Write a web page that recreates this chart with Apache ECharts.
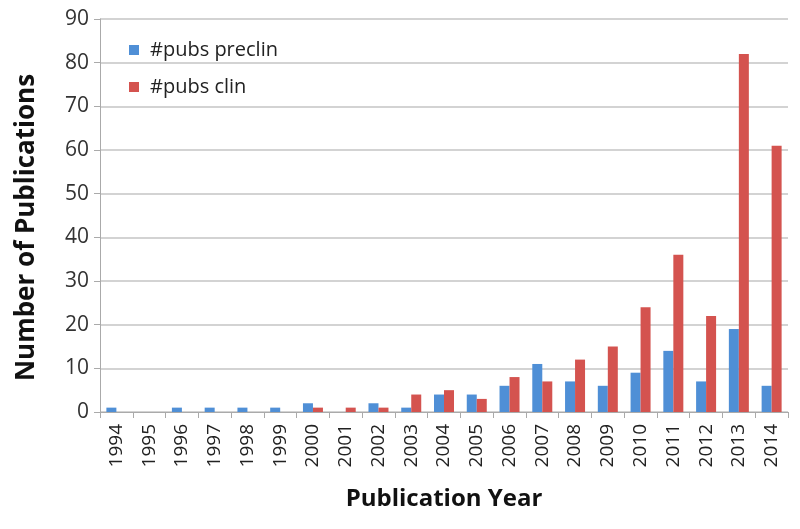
<!DOCTYPE html>
<html>
<head>
<meta charset="utf-8">
<script src="https://cdn.jsdelivr.net/npm/echarts@6/dist/echarts.min.js"></script>
<style>html,body{margin:0;padding:0;background:#fff}#c{width:800px;height:529px}</style>
</head>
<body>
<div id="c"></div>
<script>
var years = ['1994','1995','1996','1997','1998','1999','2000','2001','2002','2003','2004','2005','2006','2007','2008','2009','2010','2011','2012','2013','2014'];
var preclin = [1,0,1,1,1,1,2,0,2,1,4,4,6,11,7,6,9,14,7,19,6];
var clin = [0,0,0,0,0,0,1,1,1,4,5,3,8,7,12,15,24,36,22,82,61];
var yTicks = [0,10,20,30,40,50,60,70,80,90];

var chart = echarts.init(document.getElementById('c'));
var font = '"Open Sans", "Liberation Sans", sans-serif';
chart.setOption({
  animation: false,
  textStyle: {fontFamily: font},
  grid: {left: 100, right: 12, top: 19, bottom: 117},
  legend: {
    orient: 'vertical', left: 124, top: 35, itemGap: 17,
    itemWidth: 10, itemHeight: 10, icon: 'rect',
    textStyle: {fontSize: 20, color: '#222', fontFamily: font, padding: [0, 0, 0, 6]},
    data: ['#pubs preclin', '#pubs clin']
  },
  xAxis: {
    type: 'category', data: years,
    name: 'Publication Year', nameLocation: 'middle', nameGap: 75,
    nameTextStyle: {fontSize: 24, fontWeight: 'bold', color: '#111', fontFamily: font},
    axisLine: {lineStyle: {color: '#aaa'}},
    axisTick: {show: true, alignWithLabel: false, length: 6, lineStyle: {color: '#aaa'}},
    axisLabel: {rotate: 90, fontSize: 19, color: '#222', margin: 12, interval: 0}
  },
  yAxis: {
    type: 'value', min: yTicks[0], max: yTicks[yTicks.length-1], interval: 10,
    name: 'Number of Publications', nameLocation: 'middle', nameGap: 60,
    nameTextStyle: {fontSize: 26, fontWeight: 'bold', color: '#111', fontFamily: font, padding: [0, 24, 0, 0]},
    axisLine: {show: true, lineStyle: {color: '#aaa'}},
    axisTick: {show: true, inside: false, length: 6, lineStyle: {color: '#aaa'}},
    axisLabel: {fontSize: 21, color: '#333', margin: 11},
    splitLine: {lineStyle: {color: '#c4c4c4', width: 1.5}}
  },
  series: [
    {name: '#pubs preclin', type: 'bar', data: preclin, barWidth: 10, barGap: '0%',
     itemStyle: {color: '#4f8fd6'}},
    {name: '#pubs clin', type: 'bar', data: clin, barWidth: 10, barGap: '0%',
     itemStyle: {color: '#d4534f'}}
  ]
});
</script>
</body>
</html>
